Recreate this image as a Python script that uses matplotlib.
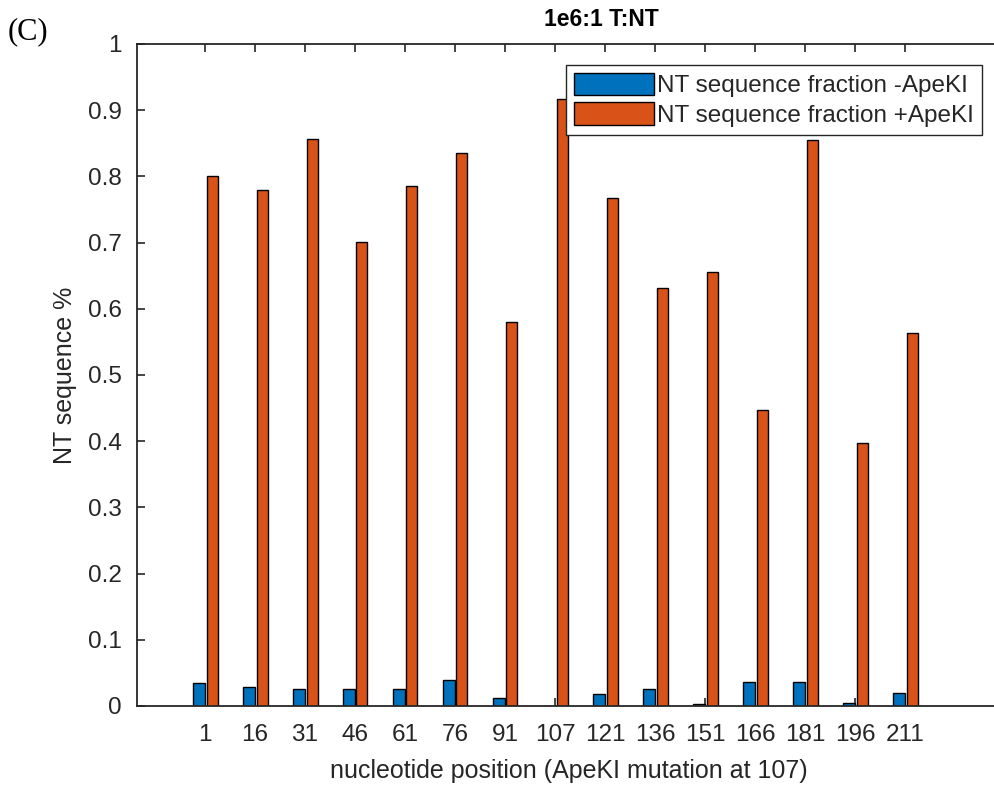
import numpy as np
import matplotlib
matplotlib.use('Agg')
import matplotlib.pyplot as plt

# nucleotide positions shown on the x axis
positions = ['1', '16', '31', '46', '61', '76', '91', '107', '121', '136',
             '151', '166', '181', '196', '211']
# NT sequence fraction without / with ApeKI digestion
frac_minus = [0.035, 0.029, 0.026, 0.026, 0.026, 0.040, 0.012, 0.0, 0.018,
              0.025, 0.003, 0.037, 0.037, 0.005, 0.020]
frac_plus = [0.801, 0.780, 0.856, 0.701, 0.786, 0.836, 0.580, 0.917, 0.768,
             0.631, 0.655, 0.447, 0.855, 0.398, 0.564]

plt.rcParams['font.family'] = ['Liberation Sans', 'DejaVu Sans']
gray = '#262626'

W, H = 994, 787
fig = plt.figure(figsize=(W / 100, H / 100), dpi=100)
# axes box runs off the right side of the picture, like the reference
ax = fig.add_axes([137 / W, (H - 706) / H, (1000 - 137) / W, (706 - 44) / H])

x = np.arange(1, len(positions) + 1)
ax.bar(x - 0.12, frac_minus, width=0.24, color='#0072BD', edgecolor='black',
       linewidth=1.0, label='NT sequence fraction -ApeKI')
ax.bar(x + 0.14, frac_plus, width=0.22, color='#D95319', edgecolor='black',
       linewidth=1.0, label='NT sequence fraction +ApeKI')

ax.set_xlim(-0.36, 1 + (1000 - 205) / 50)
ax.set_ylim(0, 1)
ax.set_axisbelow(True)

ax.set_xticks(x)
ax.set_xticklabels(positions)
ax.set_yticks(np.arange(0, 1.01, 0.1))
ax.set_yticklabels(['0', '0.1', '0.2', '0.3', '0.4', '0.5', '0.6', '0.7',
                    '0.8', '0.9', '1'])
ax.tick_params(axis='x', direction='in', top=True, length=6, width=1.2,
               colors=gray, labelsize=17.5, pad=13)
ax.tick_params(axis='y', direction='in', length=6, width=1.2,
               colors=gray, labelsize=17.5, pad=11)
for s in ax.spines.values():
    s.set_color(gray)
    s.set_linewidth(1.3)

ax.set_xlabel('nucleotide position (ApeKI mutation at 107)', fontsize=18,
              color=gray, labelpad=9)
ax.set_ylabel('NT sequence %', fontsize=18, color=gray, labelpad=8)
fig.text(601 / W, (H - 20) / H, '1e6:1 T:NT', fontsize=16.5,
         fontweight='bold', color='black', ha='center', va='center')

leg = ax.legend(loc='upper right', bbox_to_anchor=(982 / W, (H - 65) / H),
                bbox_transform=fig.transFigure, borderaxespad=0,
                fontsize=17.5, handlelength=3.3, handleheight=1.05,
                handletextpad=0.12, labelspacing=0.2, borderpad=0.32,
                fancybox=False, framealpha=1)
leg.get_frame().set_edgecolor(gray)
leg.get_frame().set_linewidth(1.0)
for t in leg.get_texts():
    t.set_color(gray)

fig.text(8 / W, (H - 32) / H, '(C)', fontsize=22, va='center', ha='left',
         family=['Liberation Serif', 'DejaVu Serif'])

fig.savefig('out.png', dpi=100)
